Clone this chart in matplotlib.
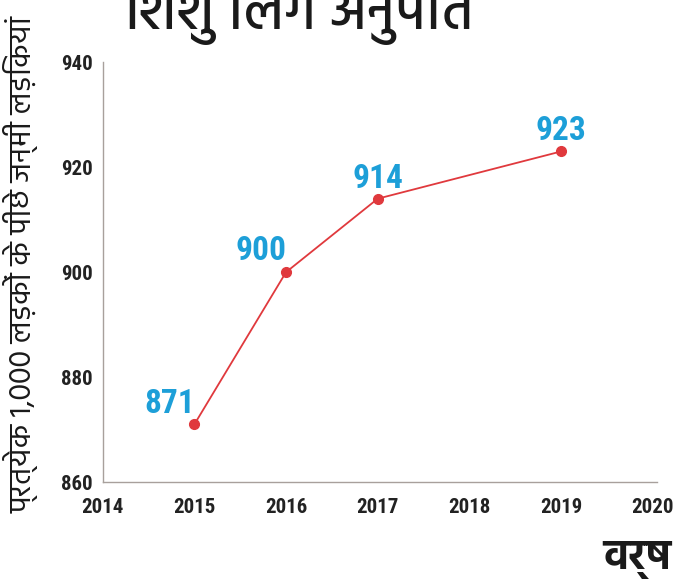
import matplotlib
matplotlib.use("Agg")
import matplotlib.pyplot as plt

# child sex ratio: girls born per 1,000 boys
years = [2015, 2016, 2017, 2019]
ratio = [871, 900, 914, 923]
# label offsets in points (dx, dy) relative to each point
label_offsets = [(-18, 15), (-18, 15), (0, 14), (0, 15)]

xticks = [2014, 2015, 2016, 2017, 2018, 2019, 2020]
yticks = [860, 880, 900, 920, 940]

title = "शिशु लिंग अनुपात"
ylabel = "प्रत्येक 1,000 लड़कों के पीछे जन्मी लड़कियां"
xlabel = "वर्ष"

LINE_RED = "#e0393d"
LABEL_BLUE = "#1d9fd8"
SPINE = "#a8a09c"
NUM_FONT = ["Roboto Condensed", "DejaVu Sans"]
DEVA_FONT = ["Hind", "Noto Sans Devanagari", "DejaVu Sans"]


def visual_order(s):
    # no text shaping here, so move the short-i sign in front of its consonant cluster
    out = []
    for c in s:
        if c == "\u093f" and out:
            j = len(out) - 1
            if out[j] == "\u093c":  # nukta
                j -= 1
            while j >= 2 and out[j - 1] == "\u094d":
                j -= 2
            out.insert(j, c)
        else:
            out.append(c)
    return "".join(out)


fig = plt.figure(figsize=(6.75, 5.81), dpi=100)
ax = fig.add_axes([0.152, 0.170, 0.822, 0.723])

ax.plot(years, ratio, color=LINE_RED, lw=1.3, marker="o", ms=7, zorder=3)
for x, y, (dx, dy) in zip(years, ratio, label_offsets):
    ax.annotate(str(y), (x, y), xytext=(dx, dy), textcoords="offset points",
                ha="center", va="center", color=LABEL_BLUE, fontsize=24,
                fontweight="bold", family=NUM_FONT)

ax.set_xlim(2014, 2020.05)
ax.set_ylim(860, 940)
ax.set_xticks(xticks)
ax.set_yticks(yticks)
ax.tick_params(length=0, labelsize=15, labelcolor="#222222")
ax.tick_params(axis="x", pad=11)
ax.tick_params(axis="y", pad=7)
for lab in ax.get_xticklabels() + ax.get_yticklabels():
    lab.set_family(NUM_FONT)
    lab.set_fontweight("bold")

for side in ["top", "right"]:
    ax.spines[side].set_visible(False)
for side in ["left", "bottom"]:
    ax.spines[side].set_color(SPINE)
    ax.spines[side].set_linewidth(1.0)

fig.text(0.444, 0.950, visual_order(title), ha="center", va="baseline",
         fontsize=40, family=DEVA_FONT, fontweight="medium", color="#1a1a1a")
fig.text(0.032, 0.545, visual_order(ylabel), rotation=90, ha="center", va="center",
         fontsize=22, family=DEVA_FONT, color="#1a1a1a")
fig.text(0.995, 0.020, visual_order(xlabel), ha="right", va="baseline",
         fontsize=30, family=DEVA_FONT, fontweight="bold", color="#1a1a1a")

fig.savefig("out.png", dpi=100, facecolor="white")
